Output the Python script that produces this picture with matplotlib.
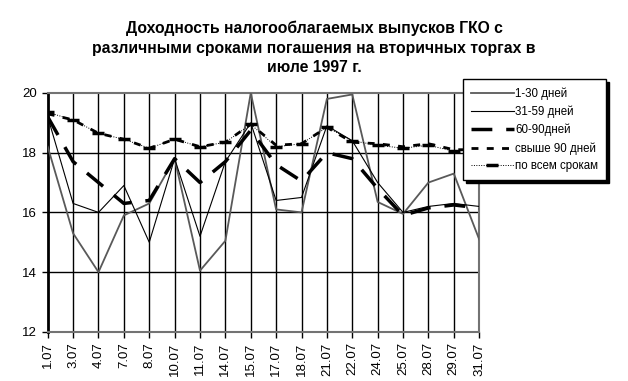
import matplotlib
matplotlib.use("Agg")
import matplotlib.pyplot as plt

plt.rcParams['font.family'] = ['Liberation Sans', 'DejaVu Sans']

dates = ["1.07", "3.07", "4.07", "7.07", "8.07", "10.07", "11.07", "14.07", "15.07",
         "17.07", "18.07", "21.07", "22.07", "24.07", "25.07", "28.07", "29.07", "31.07"]

d1_30 = [18.2, 15.3, 14.0, 15.9, 16.3, 17.8, 14.05, 15.05, 20.0,
         16.1, 16.0, 19.8, 19.95, 16.35, 15.95, 17.0, 17.3, 15.1]
d31_59 = [19.2, 16.3, 16.0, 16.9, 15.0, 17.8, 15.2, 17.7, 19.0,
          16.4, 16.5, 18.9, 18.4, 17.0, 16.0, 16.2, 16.3, 16.2]
d60_90 = [19.2, 17.7, 17.0, 16.3, 16.4, 17.8, 17.0, 17.7, 18.75,
          17.6, 17.05, 18.0, 17.8, 16.8, 15.9, 16.15, 16.25, 16.15]
over90 = [19.3, 19.1, 18.65, 18.45, 18.15, 18.45, 18.2, 18.35, 18.95,
          18.25, 18.3, 18.85, 18.35, 18.3, 18.2, 18.3, 18.1, 18.1]
all_terms = [19.35, 19.1, 18.65, 18.45, 18.15, 18.45, 18.2, 18.35, 18.95,
             18.2, 18.3, 18.85, 18.4, 18.25, 18.15, 18.25, 18.05, 18.1]

title = ("Доходность налогооблагаемых выпусков ГКО с\n"
         "различными сроками погашения на вторичных торгах в\n"
         "июле 1997 г.")

fig = plt.figure(figsize=(6.28, 3.81), dpi=100)
ax = fig.add_axes([0.076, 0.129, 0.687, 0.627])

x = list(range(len(dates)))

# grid
for xi in x[1:-1]:
    ax.axvline(xi, color="black", lw=1.0, zorder=1)
for yv in [14, 16, 18]:
    ax.axhline(yv, color="black", lw=1.0, zorder=1)

ax.plot(x, d1_30, color="0.35", lw=1.3, zorder=3, label="1-30 дней")
ax.plot(x, d31_59, color="black", lw=0.8, zorder=3, label="31-59 дней")
ax.plot(x, d60_90, color="black", lw=2.5, dashes=(6, 4), zorder=4, label="60-90дней")
ax.plot(x, over90, color="black", lw=2.0, dashes=(2.5, 3), zorder=4, label="свыше 90 дней")
ax.plot(x, all_terms, color="black", lw=0.7, ls=(0, (1, 1.5)), marker="_",
        markersize=9, markeredgewidth=2.5, zorder=5, label="по всем срокам")

ax.set_xlim(0, len(dates) - 1)
ax.set_ylim(12, 20)
ax.set_yticks([12, 14, 16, 18, 20])
ax.set_xticks(x)
ax.set_xticklabels(dates, rotation=90, fontsize=9.5)
ax.tick_params(axis="y", labelsize=9.5, length=4, width=1, direction="out")
ax.tick_params(axis="x", length=4, width=1, direction="out")

ax.spines["left"].set_linewidth(2)
for s in ["top", "right", "bottom"]:
    ax.spines[s].set_color("0.45")
    ax.spines[s].set_linewidth(1.5)
    ax.spines[s].set_linestyle((0, (1, 1)))

fig.suptitle(title, fontsize=11.3, fontweight="bold", x=0.5, y=0.945, linespacing=1.35)

leg = fig.legend(loc="upper left", bbox_to_anchor=(0.737, 0.792), fontsize=8.3,
                 frameon=True, fancybox=False, edgecolor="black", framealpha=1,
                 handlelength=3.7, labelspacing=0.5, borderpad=0.7, handletextpad=0.15,
                 borderaxespad=0, shadow={"color": "black", "alpha": 1.0})
leg.get_frame().set_linewidth(1.0)
leg.set_zorder(10)

fig.savefig("out.png", dpi=100)
